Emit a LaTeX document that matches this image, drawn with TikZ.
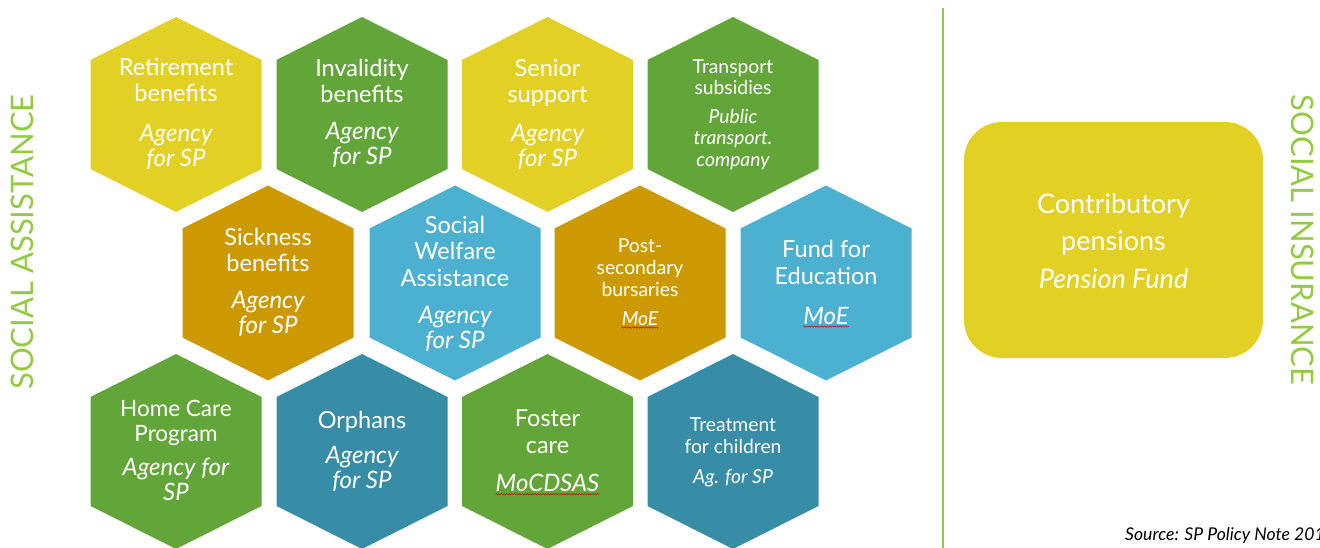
\documentclass[tikz,border=0pt]{standalone}
\usepackage{fontspec}
\setmainfont{Lato}
\usetikzlibrary{decorations.pathmorphing}

\definecolor{hexyellow}{RGB}{227,208,36}
\definecolor{hexgreen}{RGB}{98,166,58}
\definecolor{hexgold}{RGB}{204,153,0}
\definecolor{hexsky}{RGB}{76,177,208}
\definecolor{hexteal}{RGB}{55,140,166}
\definecolor{labelgreen}{RGB}{146,202,66}

% hexagonal cell: name, centre x, centre y, fill colour
\newcommand\hexcell[4]{%
  \fill[#4] (#2-85.5,#3-54.5) -- (#2,#3-97.5) -- (#2+85.5,#3-54.5)
    -- (#2+85.5,#3+54.5) -- (#2,#3+97.5) -- (#2-85.5,#3+54.5) -- cycle;
  \coordinate (#1) at (#2,#3);}

% text nodes are placed by the baseline of their last line
\tikzset{
  title/.style={text=white, align=center, anchor=base, inner sep=0pt,
    font=\fontsize{23.5}{26.5}\selectfont},
  smalltitle/.style={title, font=\fontsize{19.3}{21.7}\selectfont},
  agency/.style={title, font=\fontsize{24}{25}\selectfont\itshape},
  smallagency/.style={title, font=\fontsize{19.3}{21.7}\selectfont\itshape},
  sidelabel/.style={text=labelgreen, inner sep=0pt,
    font=\fontsize{31}{31}\selectfont},
  spellmark/.style={draw=red!85!black, line width=0.5pt,
    decorate, decoration={snake, amplitude=0.7pt, segment length=2.6pt}},
}

\begin{document}
\begin{tikzpicture}[x=1pt,y=-1pt]
\useasboundingbox (0,0) rectangle (1320,548);

% honeycomb
\hexcell{ret}{176}{114.5}{hexyellow}
\hexcell{inv}{362}{114.5}{hexgreen}
\hexcell{sen}{547.5}{114.5}{hexyellow}
\hexcell{tra}{733}{114.5}{hexgreen}
\hexcell{sic}{268}{283}{hexgold}
\hexcell{swa}{455}{283}{hexsky}
\hexcell{pos}{640}{283}{hexgold}
\hexcell{fun}{826}{283}{hexsky}
\hexcell{hom}{176}{451.5}{hexgreen}
\hexcell{orp}{362}{451.5}{hexteal}
\hexcell{fos}{547.5}{451.5}{hexgreen}
\hexcell{tre}{733}{451.5}{hexteal}

% row 1
\node[title] (ret-t) at (176,101.7) {Retirement\\benefits};
\node[agency] (ret-a) at (176,166.7) {Agency\\for SP};
\node[title] (inv-t) at (362,103) {Invalidity\\benefits};
\node[agency] (inv-a) at (362,165) {Agency\\for SP};
\node[title] (sen-t) at (547.5,102.7) {Senior\\support};
\node[agency] (sen-a) at (547.5,167) {Agency\\for SP};
\node[smalltitle] (tra-t) at (733,95) {Transport\\subsidies};
\node[smallagency] (tra-a) at (733,166.7) {Public\\transport.\\company};

% row 2
\node[title] (sic-t) at (268,271.7) {Sickness\\benefits};
\node[agency] (sic-a) at (268,333.3) {Agency\\for SP};
\node[title] (swa-t) at (455,286) {Social\\Welfare\\Assistance};
\node[agency] (swa-a) at (455,348.3) {Agency\\for SP};
\node[smalltitle] (pos-t) at (640,296) {Post-\\secondary\\bursaries};
\node[smallagency] (pos-a) at (640,325) {MoE};
\node[title] (fun-t) at (826,284) {Fund for\\Education};
\node[agency] (fun-a) at (826,324) {MoE};

% row 3
\node[title, font=\fontsize{22.5}{25}\selectfont] (hom-t) at (176,441.7) {Home Care\\Program};
\node[agency] (hom-a) at (176,500) {Agency for\\SP};
\node[title] (orp-t) at (362,428.3) {Orphans};
\node[agency] (orp-a) at (362,488.3) {Agency\\for SP};
\node[title] (fos-t) at (547.5,453.3) {Foster\\care};
\node[agency] (fos-a) at (547.5,491.7) {MoCDSAS};
\node[smalltitle] (tre-t) at (733,453.3) {Treatment\\for children};
\node[smallagency] (tre-a) at (733,483.3) {Ag. for SP};

% proofing underlines
\draw[spellmark] ([yshift=-2.5pt]pos-a.base west) -- ([yshift=-2.5pt]pos-a.base east);
\draw[spellmark] ([yshift=-2.5pt]fun-a.base west) -- ([yshift=-2.5pt]fun-a.base east);
\draw[spellmark] ([yshift=-2.5pt]fos-a.base west) -- ([yshift=-2.5pt]fos-a.base east);

% divider between the two groups
\coordinate (divtop) at (943,8);
\coordinate (divbot) at (943,548);
\draw[labelgreen, line width=2.4pt] (divtop) -- (divbot);

% social insurance box
\node[fill=hexyellow, rounded corners=38pt, minimum width=299pt,
  minimum height=236pt, inner sep=0pt] (pen) at (1113.5,240) {};
\node[title, font=\fontsize{27}{37.5}\selectfont] (pen-t) at (1113.5,288.3)
  {Contributory\\pensions\\\itshape Pension Fund};

% side labels
\node[sidelabel, rotate=90] (sa) at (22.5,242) {SOCIAL ASSISTANCE};
\node[sidelabel, rotate=-90] (si) at (1303,240) {SOCIAL INSURANCE};

% source line
\node[anchor=base west, inner sep=0pt, font=\fontsize{17.6}{17.6}\selectfont\itshape]
  (src) at (1125,540) {Source: SP Policy Note 2017};
\end{tikzpicture}
\end{document}
